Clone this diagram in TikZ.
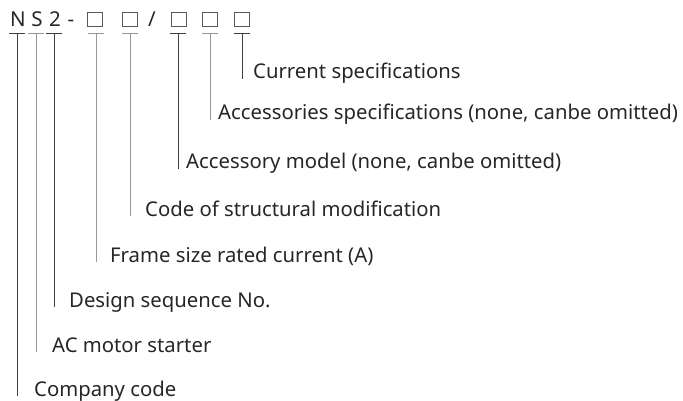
\documentclass[tikz,border=0pt]{standalone}
\usepackage{fontspec}
\setmainfont{Noto Sans}
\usetikzlibrary{positioning}
\tikzset{
    code/.style={font=\fontsize{20.5}{24}\selectfont, text=black!85, inner sep=0pt, anchor=base},
    slot/.style={rectangle, draw=black!65, line width=1pt, minimum size=14.5pt, inner sep=0pt},
    tick/.style={line width=0.9pt},
    darkline/.style={tick, black!75},
    lightline/.style={tick, black!40},
    desc/.style={font=\fontsize{20.3}{24}\selectfont, text=black!85, anchor=base west, inner sep=0pt}
}

\begin{document}
\begin{tikzpicture}[x=1pt, y=-1pt]
    \useasboundingbox (0,0) rectangle (683,401);

    % Model code
    \node[code] (cN) at (18,26.5) {N};
    \node[code] (cS) at (37,26.5) {S};
    \node[code] (c2) at (55,26.5) {2};
    \node[code] (dash) at (71,26.5) {-};
    \node[slot] (b1) at (95,19.5) {};
    \node[slot] (b2) at (130,19.5) {};
    \node[code] (slash) at (152,26.5) {/};
    \node[slot] (b3) at (179,19.5) {};
    \node[slot] (b4) at (210,19.5) {};
    \node[slot] (b5) at (242,19.5) {};

    % Leaders and meanings
    \foreach \n/\x/\y/\tx/\c/\txt in {
        N/17/396/34/darkline/{Company code},
        S/36/352/52/lightline/{AC motor starter},
        2/54/307/69/darkline/{Design sequence No.},
        b1/96/262/110/lightline/{Frame size rated current (A)},
        b2/130/216/145/lightline/{Code of structural modification},
        b3/178/169/186/darkline/{Accessory model (none, canbe omitted)},
        b4/210/120/218/lightline/{Accessories specifications (none, canbe omitted)},
        b5/242/79/253/darkline/{Current specifications}}{
        \coordinate (t\n) at (\x,33);
        \coordinate (e\n) at (\x,\y);
        \draw[\c] ([xshift=-8pt]t\n) -- ([xshift=8pt]t\n);
        \draw[\c] (t\n) -- (e\n);
        \node[desc] (l\n) at (\tx,\y) {\txt};
    }
\end{tikzpicture}
\end{document}
